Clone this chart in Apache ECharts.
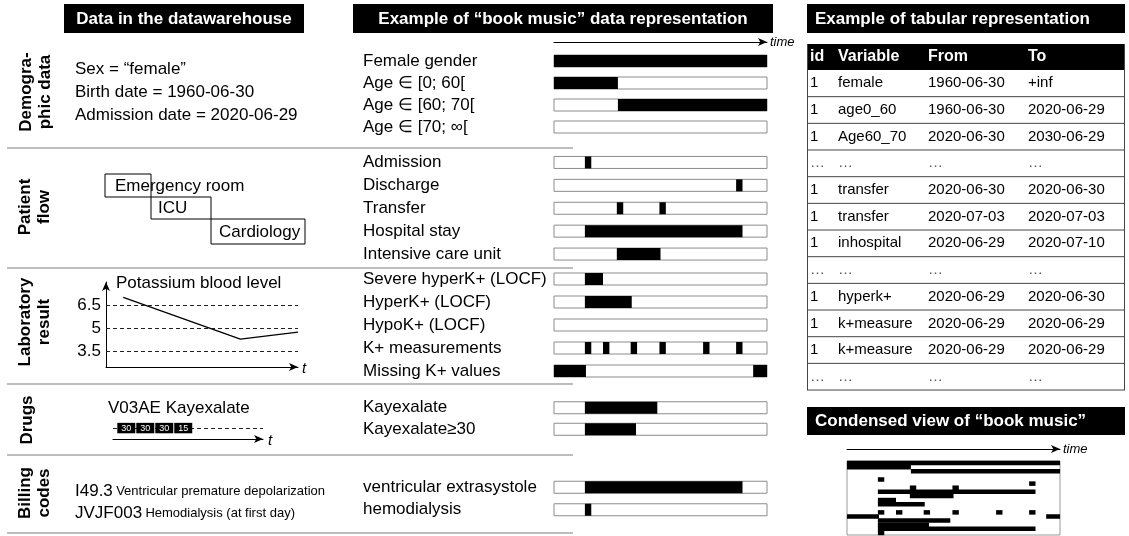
<!DOCTYPE html>
<html>
<head>
<meta charset="utf-8">
<script src="https://cdn.jsdelivr.net/npm/echarts@6/dist/echarts.min.js"></script>
<style>
  html, body { margin: 0; padding: 0; background: #fff; }
  #chart { width: 1129px; height: 536px; }
</style>
</head>
<body>
<div id="chart"></div>
<script>
// 字体
const FONT = '"Liberation Sans", Arial, sans-serif'

// "book music" rows, one list per section
const demoRows = ['Female gender', 'Age \u2208 [0; 60[', 'Age \u2208 [60; 70[', 'Age \u2208 [70; \u221e[']
const flowRows = ['Admission', 'Discharge', 'Transfer', 'Hospital stay', 'Intensive care unit']
const labRows = ['Severe hyperK+ (LOCF)', 'HyperK+ (LOCF)', 'HypoK+ (LOCF)', 'K+ measurements', 'Missing K+ values']
const drugRows = ['Kayexalate', 'Kayexalate\u226530']
const billRows = ['ventricular extrasystole', 'hemodialysis']

// black periods per row, time scale 0-100
const demoPeriods = [[[0, 100]], [[0, 30]], [[30, 100]], []]
const flowPeriods = [[[14.5, 17.5]], [[85.5, 88.5]], [[29.5, 32.5], [49.5, 52.5]], [[14.5, 88.5]], [[29.5, 50]]]
const labPeriods = [[[14.5, 23]], [[14.5, 36.5]], [], [[14.5, 17.5], [23, 26], [36, 39], [49.5, 52.5], [70, 73], [85.5, 88.5]], [[0, 15], [93.5, 100]]]
const drugPeriods = [[[14.5, 48.5]], [[14.5, 38.5]]]
const billPeriods = [[[14.5, 88.5]], [[14.5, 17.5]]]

// potassium curve
const kThresholds = [6.5, 5, 3.5]
const kTime = [9, 70, 100]
const kLevel = [7.0, 4.3, 4.75]

// kayexalate doses (one per day)
const doses = [30, 30, 30, 15]

// patient flow
const wards = ['Emergency room', 'ICU', 'Cardiology']

// datawarehouse text
const demoText = ['Sex = \u201cfemale\u201d', 'Birth date = 1960-06-30', 'Admission date = 2020-06-29']
const billCodes = ['I49.3', 'JVJF003']
const billLabels = ['Ventricular premature depolarization', 'Hemodialysis (at first day)']

// table
const tabHead = ['id', 'Variable', 'From', 'To']
const tabId = ['1', '1', '1', '\u2026', '1', '1', '1', '\u2026', '1', '1', '1', '\u2026']
const tabVar = ['female', 'age0_60', 'Age60_70', '\u2026', 'transfer', 'transfer', 'inhospital', '\u2026', 'hyperk+', 'k+measure', 'k+measure', '\u2026']
const tabFrom = ['1960-06-30', '1960-06-30', '2020-06-30', '\u2026', '2020-06-30', '2020-07-03', '2020-06-29', '\u2026', '2020-06-29', '2020-06-29', '2020-06-29', '\u2026']
const tabTo = ['+inf', '2020-06-29', '2030-06-29', '\u2026', '2020-06-30', '2020-07-03', '2020-07-10', '\u2026', '2020-06-30', '2020-06-29', '2020-06-29', '\u2026']

const sections = [
  { rows: demoRows, periods: demoPeriods, top: 50, height: 88 },
  { rows: flowRows, periods: flowPeriods, top: 151, height: 114.5 },
  { rows: labRows, periods: labPeriods, top: 267.5, height: 115 },
  { rows: drugRows, periods: drugPeriods, top: 397, height: 43 },
  { rows: billRows, periods: billPeriods, top: 476, height: 45 }
]

const chart = echarts.init(document.getElementById('chart'))

const toItems = (periods) => {
  const out = []
  periods.forEach((row, i) => row.forEach((p) => out.push([p[0], p[1], i])))
  return out
}

// 绘制时间段矩形
const periodItem = (h, fill, stroke) => (params, api) => {
  const a = api.coord([api.value(0), api.value(2)])
  const b = api.coord([api.value(1), api.value(2)])
  const hh = h || api.size([0, 1])[1] + 0.4
  return {
    type: 'rect',
    shape: { x: a[0], y: a[1] - hh / 2, width: b[0] - a[0], height: hh },
    style: { fill: fill, stroke: stroke || null, lineWidth: stroke ? 1 : 0 }
  }
}

const grids = []
const xAxes = []
const yAxes = []
const series = []

sections.forEach((s, k) => {
  grids.push({ left: 554, width: 213, top: s.top, height: s.height, outerBoundsMode: 'none' })
  xAxes.push({
    gridIndex: k, type: 'value', min: 0, max: 100,
    show: k === 0, position: 'top', offset: 8,
    axisLine: { show: true, symbol: ['none', 'arrow'], symbolSize: [6, 9], lineStyle: { color: '#000', width: 1 } },
    axisTick: { show: false }, axisLabel: { show: false }, splitLine: { show: false },
    name: 'time', nameLocation: 'end', nameGap: 3,
    nameTextStyle: { fontStyle: 'italic', fontSize: 13, color: '#000', fontFamily: FONT }
  })
  yAxes.push({
    gridIndex: k, type: 'category', data: s.rows, inverse: true,
    axisLine: { show: false }, axisTick: { show: false }, splitLine: { show: false },
    axisLabel: { interval: 0, hideOverlap: false, align: 'left', margin: 191, fontSize: 17, color: '#000', fontFamily: FONT }
  })
  series.push({
    type: 'custom', xAxisIndex: k, yAxisIndex: k, silent: true,
    encode: { x: [0, 1], y: 2 },
    renderItem: periodItem(12, '#fff', '#8c8c8c'),
    data: s.rows.map((r, i) => [0, 100, i])
  })
  series.push({
    type: 'custom', xAxisIndex: k, yAxisIndex: k,
    encode: { x: [0, 1], y: 2 },
    renderItem: periodItem(12, '#000'),
    data: toItems(s.periods)
  })
})

// condensed view (all rows stacked)
const allRows = [].concat(demoRows, flowRows, labRows, drugRows, billRows)
const allPeriods = [].concat(demoPeriods, flowPeriods, labPeriods, drugPeriods, billPeriods)
grids.push({ left: 847, width: 213, top: 461, height: 74, show: true, borderColor: '#999', borderWidth: 1, backgroundColor: '#fff', outerBoundsMode: 'none' })
xAxes.push({
  gridIndex: 5, type: 'value', min: 0, max: 100, position: 'top', offset: 12,
  axisLine: { show: true, symbol: ['none', 'arrow'], symbolSize: [6, 9], lineStyle: { color: '#000', width: 1 } },
  axisTick: { show: false }, axisLabel: { show: false }, splitLine: { show: false },
  name: 'time', nameLocation: 'end', nameGap: 3,
  nameTextStyle: { fontStyle: 'italic', fontSize: 13, color: '#000', fontFamily: FONT }
})
yAxes.push({ gridIndex: 5, type: 'category', data: allRows, inverse: true, show: false })
series.push({
  type: 'custom', xAxisIndex: 5, yAxisIndex: 5,
  encode: { x: [0, 1], y: 2 },
  renderItem: periodItem(0, '#000'),
  data: toItems(allPeriods)
})

// potassium plot
grids.push({ left: 106, width: 192, top: 282, height: 85, outerBoundsMode: 'none' })
xAxes.push({
  gridIndex: 6, type: 'value', min: 0, max: 100,
  axisLine: { show: true, symbol: ['none', 'arrow'], symbolSize: [6, 9], lineStyle: { color: '#000', width: 1 } },
  axisTick: { show: false }, axisLabel: { show: false }, splitLine: { show: false }
})
yAxes.push({
  gridIndex: 6, type: 'value', min: 2.5, max: 8,
  axisLine: { show: true, symbol: ['none', 'arrow'], symbolSize: [6, 9], lineStyle: { color: '#000', width: 1 } },
  axisTick: { show: false }, axisLabel: { show: false }, splitLine: { show: false }
})
series.push({
  type: 'line', xAxisIndex: 6, yAxisIndex: 6, symbol: 'none',
  lineStyle: { color: '#000', width: 1.3 },
  data: kTime.map((t, i) => [t, kLevel[i]]),
  markLine: {
    silent: true, symbol: 'none',
    lineStyle: { type: [4, 3], color: '#222', width: 1 },
    label: { position: 'start', distance: 5, fontSize: 17, color: '#000', fontFamily: FONT, formatter: '{c}' },
    data: kThresholds.map((v) => ({ yAxis: v }))
  }
})

// kayexalate doses
grids.push({ left: 113, width: 150, top: 420, height: 19, outerBoundsMode: 'none' })
xAxes.push({
  gridIndex: 7, type: 'value', min: -0.2, max: 7.7,
  axisLine: { show: true, symbol: ['none', 'arrow'], symbolSize: [6, 9], lineStyle: { color: '#000', width: 1 } },
  axisTick: { show: false }, axisLabel: { show: false }, splitLine: { show: false }
})
yAxes.push({ gridIndex: 7, type: 'value', min: 0, max: 1, show: false })
series.push({
  type: 'custom', xAxisIndex: 7, yAxisIndex: 7,
  encode: { x: 0, y: 1 },
  renderItem: (params, api) => {
    const i = api.value(0)
    const a = api.coord([i, 0.85])
    const b = api.coord([i + 1, 0.3])
    return {
      type: 'rect',
      shape: { x: a[0] + 0.5, y: a[1], width: b[0] - a[0] - 1, height: b[1] - a[1] },
      style: { fill: '#000' },
      textContent: { style: { text: String(api.value(1)), fill: '#fff', fontSize: 9, fontFamily: FONT } },
      textConfig: { position: 'inside' },
      z2: 10
    }
  },
  data: doses.map((d, i) => [i, d]),
  z: 3,
  markLine: {
    silent: true, symbol: 'none', z: 1,
    lineStyle: { type: [4, 3], color: '#222', width: 1 },
    label: { show: false },
    data: [{ yAxis: 0.58 }]
  }
})

// 静态文字和方框
const graphic = []
const txt = (x, y, text, extra) => {
  graphic.push({
    type: 'text', x: x, y: y, silent: true,
    style: Object.assign({ text: text, fill: '#000', fontSize: 17, fontFamily: FONT, verticalAlign: 'middle' }, extra)
  })
}
const rect = (x, y, w, h, style) => {
  graphic.push({ type: 'rect', silent: true, shape: { x: x, y: y, width: w, height: h }, style: style })
}
const line = (x1, y1, x2, y2, style) => {
  graphic.push({ type: 'line', silent: true, shape: { x1: x1, y1: y1, x2: x2, y2: y2 }, style: style })
}

// headers
rect(64, 4, 240, 29, { fill: '#000' })
txt(184, 19, 'Data in the datawarehouse', { fill: '#fff', fontWeight: 'bold', align: 'center' })
rect(353, 4, 420, 29, { fill: '#000' })
txt(563, 19, 'Example of \u201cbook music\u201d data representation', { fill: '#fff', fontWeight: 'bold', align: 'center' })
rect(807, 4, 318, 29, { fill: '#000' })
txt(815, 19, 'Example of tabular representation', { fill: '#fff', fontWeight: 'bold' })
rect(807, 407, 318, 28, { fill: '#000' })
txt(815, 421, 'Condensed view of \u201cbook music\u201d', { fill: '#fff', fontWeight: 'bold' })

// section separators
;[148, 268, 384, 455, 533].forEach((y) => line(7, y, 573, y, { stroke: '#bdbdbd', lineWidth: 2 }))

// section titles (rotated)
const rot = (x, y, text) => {
  graphic.push({
    type: 'text', x: x, y: y, rotation: Math.PI / 2, silent: true,
    style: { text: text, fill: '#000', fontSize: 17, fontWeight: 'bold', fontFamily: FONT, align: 'center', verticalAlign: 'middle', lineHeight: 19 }
  })
}
rot(36, 92, 'Demogra-\nphic data')
rot(35, 207, 'Patient\nflow')
rot(35, 322, 'Laboratory\nresult')
rot(27, 420, 'Drugs')
rot(35, 493, 'Billing\ncodes')

// demographic text
demoText.forEach((t, i) => txt(75, 69 + i * 23, t))

// patient flow boxes
const wardBox = [[105, 174, 46, 23], [151, 197, 60, 22], [211, 219, 94, 25]]
const wardTextX = [115, 158, 219]
wards.forEach((w, i) => {
  const b = wardBox[i]
  rect(b[0], b[1], b[2], b[3], { fill: 'none', stroke: '#000', lineWidth: 1 })
  txt(wardTextX[i], b[1] + b[3] / 2 + 0.5, w)
})

// lab + drugs text
txt(116, 283, 'Potassium blood level')
txt(302, 369, 't', { fontStyle: 'italic', fontSize: 15 })
txt(108, 408, 'V03AE Kayexalate')
txt(268, 441, 't', { fontStyle: 'italic', fontSize: 15 })

// billing codes
billCodes.forEach((c, i) => {
  graphic.push({
    type: 'text', x: 75, y: 491 + i * 22, silent: true,
    style: {
      text: '{a|' + c + '} {b|' + billLabels[i] + '}', verticalAlign: 'middle', fontFamily: FONT,
      rich: { a: { fontSize: 17, fill: '#000', fontFamily: FONT }, b: { fontSize: 13, fill: '#000', fontFamily: FONT } }
    }
  })
})

// table
const tabTop = 44
const headH = 26
const rowH = 26.67
const colX = [810, 838, 928, 1028]
rect(807, tabTop, 318, headH, { fill: '#000' })
tabHead.forEach((h, j) => txt(colX[j], tabTop + headH / 2, h, { fill: '#fff', fontWeight: 'bold', fontSize: 16 }))
const cols = [tabId, tabVar, tabFrom, tabTo]
tabVar.forEach((v, i) => {
  const y0 = tabTop + headH + i * rowH
  cols.forEach((c, j) => txt(colX[j], y0 + rowH / 2, c[i], { fontSize: 15, fill: c[i] === '\u2026' ? '#555' : '#000' }))
  line(807, y0 + rowH, 1125, y0 + rowH, { stroke: '#444', lineWidth: 1 })
})
const tabBottom = tabTop + headH + tabVar.length * rowH
line(807.5, tabTop, 807.5, tabBottom, { stroke: '#444', lineWidth: 1 })
line(1124.5, tabTop, 1124.5, tabBottom, { stroke: '#444', lineWidth: 1 })

chart.setOption({
  animation: false,
  backgroundColor: '#fff',
  grid: grids,
  xAxis: xAxes,
  yAxis: yAxes,
  series: series,
  graphic: graphic
})
</script>
</body>
</html>
